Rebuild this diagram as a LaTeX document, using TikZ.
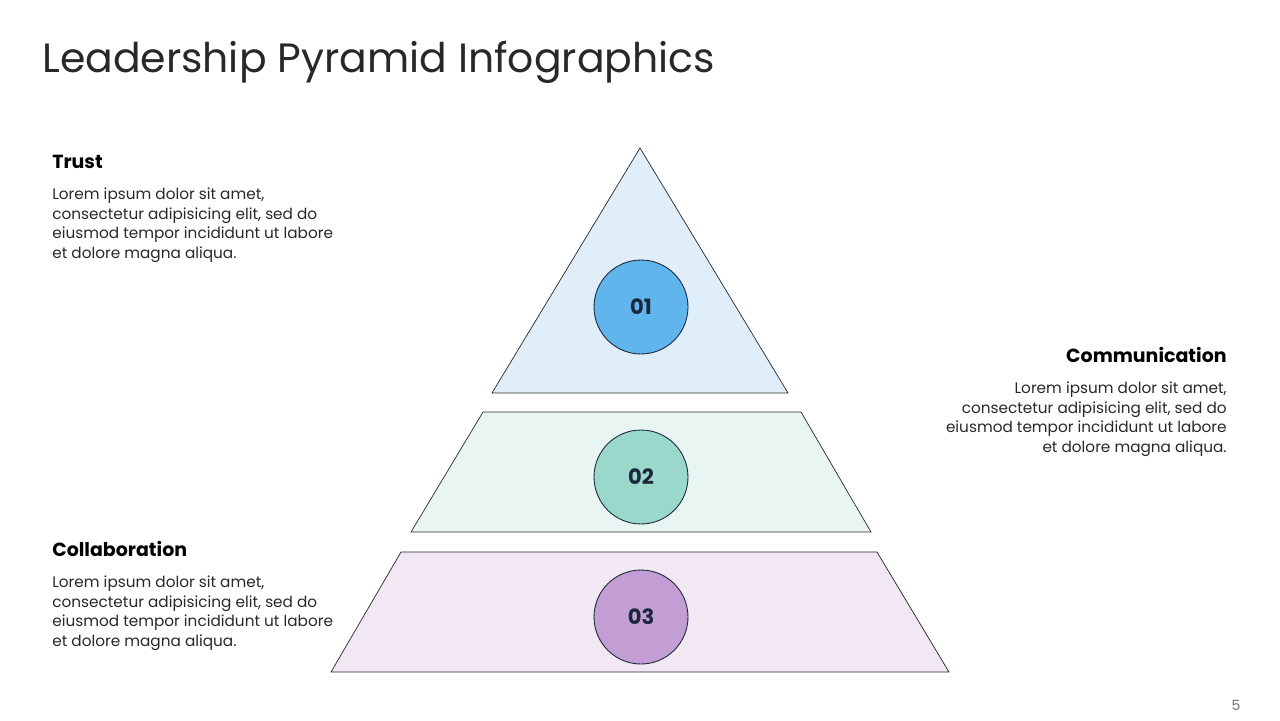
\documentclass[tikz,border=0pt]{standalone}
\usepackage{fontspec}
\setmainfont{Poppins}
\usetikzlibrary{positioning}
\definecolor{tierBlue}{RGB}{223,238,249}
\definecolor{tierMint}{RGB}{232,245,242}
\definecolor{tierLilac}{RGB}{241,232,244}
\definecolor{dotBlue}{RGB}{95,181,236}
\definecolor{dotMint}{RGB}{155,216,204}
\definecolor{dotLilac}{RGB}{194,158,212}
\definecolor{inkNavy}{RGB}{28,40,58}
\definecolor{inkGray}{RGB}{40,40,40}

\begin{document}
\begin{tikzpicture}[
  x=0.02cm, y=-0.02cm,
  tier/.style={draw=inkGray, line width=0.4pt},
  badge/.style={circle, draw=inkNavy, line width=0.5pt, minimum size=1.88cm,
                inner sep=0pt, font=\fontsize{12}{14}\selectfont\bfseries, text=inkNavy},
  head/.style={inner sep=0pt, font=\fontsize{10.8}{12}\selectfont\bfseries, text=black},
  body/.style={inner sep=0pt, font=\fontsize{8.7}{11.05}\selectfont, text=inkGray}
]
\useasboundingbox (0,0) rectangle (1280,720);

% title and page number
\node[anchor=base west, inner sep=0pt, font=\fontsize{23.3}{28}\selectfont, text=inkGray]
  (title) at (42,72) {Leadership Pyramid Infographics};
\node[anchor=base, inner sep=0pt, font=\fontsize{8}{10}\selectfont, text=black!55]
  (page) at (1236,710) {5};

% pyramid tiers
\draw[tier, fill=tierBlue]  (640,148) -- (788,393) -- (492,393) -- cycle;
\draw[tier, fill=tierMint]  (483,412) -- (801,412) -- (871,532) -- (411,532) -- cycle;
\draw[tier, fill=tierLilac] (401,552) -- (877,552) -- (949,672) -- (331,672) -- cycle;

% numbered badges
\node[badge, fill=dotBlue]  (b1) at (641,307) {01};
\node[badge, fill=dotMint]  (b2) at (641,477) {02};
\node[badge, fill=dotLilac] (b3) at (641,617) {03};

% text blocks
\node[head, anchor=base west] (trust) at (52,168) {Trust};
\node[body, align=left, anchor=north west] (trustTxt) at ([yshift=-4mm]trust.base west)
  {Lorem ipsum dolor sit amet,\\consectetur adipisicing elit, sed do\\eiusmod tempor incididunt ut labore\\et dolore magna aliqua.};

\node[head, anchor=base east] (comm) at (1227,362) {Communication};
\node[body, align=right, anchor=north east] (commTxt) at ([yshift=-4mm]comm.base east)
  {Lorem ipsum dolor sit amet,\\consectetur adipisicing elit, sed do\\eiusmod tempor incididunt ut labore\\et dolore magna aliqua.};

\node[head, anchor=base west] (collab) at (52,556) {Collaboration};
\node[body, align=left, anchor=north west] (collabTxt) at ([yshift=-4mm]collab.base west)
  {Lorem ipsum dolor sit amet,\\consectetur adipisicing elit, sed do\\eiusmod tempor incididunt ut labore\\et dolore magna aliqua.};
\end{tikzpicture}
\end{document}
